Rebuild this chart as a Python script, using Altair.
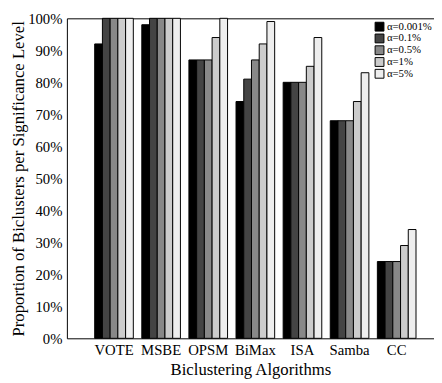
import altair as alt
import pandas as pd

algos = ["VOTE", "MSBE", "OPSM", "BiMax", "ISA", "Samba", "CC"]
alphas = ["α=0.001%", "α=0.1%", "α=0.5%", "α=1%", "α=5%"]
colors = ["#000000", "#444444", "#888888", "#cccccc", "#eeeeee"]

v_0001 = [0.92, 0.98, 0.87, 0.74, 0.80, 0.68, 0.24]
v_01 = [1.00, 1.00, 0.87, 0.81, 0.80, 0.68, 0.24]
v_05 = [1.00, 1.00, 0.87, 0.87, 0.80, 0.68, 0.24]
v_1 = [1.00, 1.00, 0.94, 0.92, 0.85, 0.74, 0.29]
v_5 = [1.00, 1.00, 1.00, 0.99, 0.94, 0.83, 0.34]
series = [v_0001, v_01, v_05, v_1, v_5]

rows = []
for a, vals in zip(alphas, series):
    for algo, v in zip(algos, vals):
        rows.append({"algo": algo, "alpha": a, "value": v})
df = pd.DataFrame(rows)

FONT = "Liberation Serif"
xscale = alt.Scale(paddingInner=0.18, paddingOuter=0.486, align=0.607)


def yenc():
    return alt.Y("value:Q", scale=alt.Scale(domain=[0, 1]),
                 axis=alt.Axis(values=[i / 10 for i in range(11)], format=".0%", ticks=False,
                               grid=False, domainColor="black", labelPadding=5,
                               labelFontSize=15, labelFont=FONT, labelColor="black",
                               labelOverlap=False,
                               title="Proportion of Biclusters per Significance Level",
                               titleFont=FONT, titleFontSize=17, titleFontWeight="normal",
                               titleColor="black", titlePadding=0))


bars = alt.Chart(df).mark_bar(stroke="black", strokeWidth=1).encode(
    x=alt.X("algo:N", sort=algos, scale=xscale,
            axis=alt.Axis(labelAngle=0, ticks=False, domainColor="black", labelPadding=4,
                          labelFontSize=15, labelFont=FONT, labelColor="black",
                          title="Biclustering Algorithms", titleFont=FONT, titleFontSize=17,
                          titleFontWeight="normal", titleColor="black", titlePadding=5)),
    xOffset=alt.XOffset("alpha:N", sort=alphas),
    y=yenc(),
    color=alt.Color("alpha:N", sort=alphas,
                    scale=alt.Scale(domain=alphas, range=colors),
                    legend=alt.Legend(title=None, orient="none", legendX=313, legendY=3,
                                      symbolType="square", symbolSize=81,
                                      symbolStrokeColor="black", symbolStrokeWidth=1,
                                      labelFont=FONT, labelFontSize=11, labelColor="black",
                                      labelOffset=2, rowPadding=-2, padding=0)),
)

top = alt.Chart(df).mark_bar(opacity=0).encode(
    x=alt.X("algo:N", sort=algos, scale=xscale,
            axis=alt.Axis(orient="top", labels=False, ticks=False, title=None,
                          domainColor="black")),
    y=yenc(),
)

chart = alt.layer(bars, top).resolve_axis(x="independent").properties(
    width=374, height=326,
    autosize=alt.AutoSizeParams(type="none"),
    padding={"left": 60, "top": 7, "right": 0, "bottom": 42},
).configure_view(stroke=None)

chart.save("out.html", embed_options={"renderer": "svg", "actions": False})
